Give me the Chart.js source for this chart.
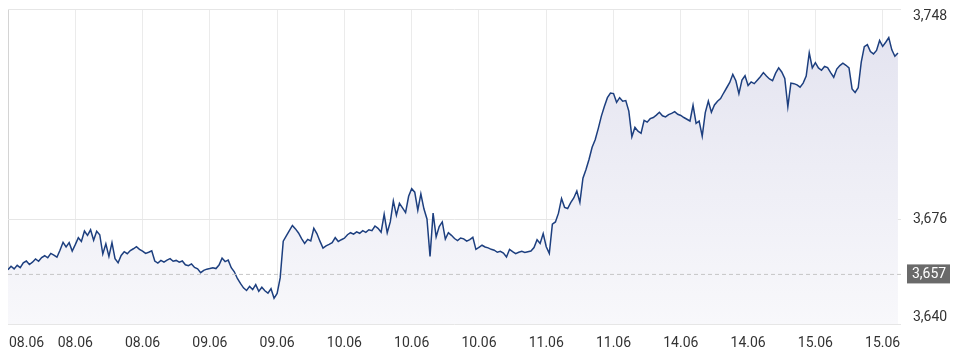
<!DOCTYPE html>
<html>
<head>
<meta charset="utf-8">
<script src="https://cdn.jsdelivr.net/npm/chart.js@4"></script>
<style>
  html, body { margin: 0; padding: 0; background: #fff; }
  #wrap { width: 956px; height: 361px; }
</style>
</head>
<body>
<div id="wrap"><canvas id="chart"></canvas></div>
<script>
// X axis tick labels and the point index they sit on
const xTickLabels = ["08.06", "08.06", "08.06", "09.06", "09.06", "10.06", "10.06",
  "10.06", "11.06", "11.06", "14.06", "14.06", "15.06", "15.06"];
const xTickIndex = [0, 22, 44, 66, 88, 110, 132, 154, 176, 198, 220, 242, 264, 286];

// Y axis ticks and the last price marker
const yTicks = [3640, 3676, 3748];
const lastPrice = 3657;

// Price values, one per step
const prices = [
  3658.6, 3659.8, 3658.9, 3660.1, 3659.3, 3661.0, 3661.6, 3660.4, 3661.2, 3662.3, 3661.5,
  3662.8, 3663.4, 3662.7, 3664.2, 3663.6, 3662.9, 3665.3, 3668.0, 3666.4, 3667.9, 3665.0,
  3667.2, 3669.6, 3668.3, 3671.9, 3670.4, 3672.3, 3668.7, 3671.8, 3670.6, 3664.0, 3667.5,
  3663.2, 3667.9, 3662.4, 3661.0, 3663.5, 3664.8, 3664.1, 3665.2, 3665.8, 3666.5, 3665.6,
  3665.0, 3664.2, 3664.6, 3665.1, 3661.6, 3660.9, 3661.8, 3661.2, 3661.9, 3662.4, 3661.5,
  3661.8, 3661.2, 3661.6, 3660.3, 3660.0, 3660.6, 3659.4, 3658.9, 3657.6, 3658.4, 3658.8,
  3659.0, 3659.3, 3659.0, 3660.2, 3662.6, 3661.4, 3661.9, 3659.3, 3657.9, 3655.6, 3653.9,
  3652.4, 3651.5, 3652.9, 3651.8, 3653.5, 3651.2, 3652.6, 3651.4, 3650.6, 3652.1, 3648.8,
  3650.5, 3655.8, 3668.4, 3670.2, 3672.0, 3673.8, 3672.6, 3671.2, 3669.3, 3667.6, 3669.0,
  3668.5, 3672.8, 3671.0, 3668.4, 3666.0, 3666.8, 3667.3, 3667.9, 3669.6, 3668.3, 3668.9,
  3669.4, 3670.6, 3671.3, 3670.8, 3671.6, 3671.1, 3672.0, 3671.4, 3672.3, 3672.0, 3673.6,
  3672.8, 3671.5, 3677.6, 3671.3, 3675.0, 3682.2, 3677.3, 3681.4, 3679.8, 3678.2, 3683.8,
  3686.4, 3685.2, 3679.0, 3684.6, 3679.5, 3676.0, 3663.2, 3678.0, 3669.9, 3673.4, 3675.0,
  3669.1, 3671.3, 3670.4, 3669.3, 3668.6, 3669.5, 3669.2, 3668.4, 3668.9, 3669.7, 3665.6,
  3666.3, 3667.0, 3666.4, 3666.1, 3665.6, 3665.3, 3664.6, 3664.9, 3664.3, 3663.0, 3665.6,
  3664.8, 3664.1, 3664.6, 3664.9, 3664.5, 3664.8, 3665.0, 3666.2, 3668.9, 3667.6, 3671.0,
  3666.5, 3664.2, 3674.2, 3675.0, 3678.0, 3683.0, 3680.0, 3679.6, 3681.6, 3683.2, 3685.6,
  3681.7, 3690.0, 3693.0, 3696.5, 3700.6, 3703.2, 3707.0, 3711.2, 3714.6, 3717.6, 3719.2,
  3719.0, 3716.0, 3717.6, 3716.4, 3716.6, 3713.0, 3704.2, 3707.4, 3706.1, 3705.4, 3709.8,
  3709.2, 3710.4, 3710.8, 3711.6, 3712.6, 3711.4, 3711.0, 3711.8, 3712.2, 3712.8, 3711.9,
  3711.5, 3710.8, 3710.2, 3709.6, 3715.0, 3708.8, 3709.6, 3704.4, 3712.5, 3716.4, 3712.6,
  3715.1, 3716.4, 3717.3, 3719.2, 3721.0, 3722.8, 3725.6, 3723.4, 3719.0, 3723.6, 3725.1,
  3721.8, 3723.0, 3722.4, 3723.6, 3724.8, 3726.2, 3725.0, 3724.0, 3723.4, 3726.0, 3727.8,
  3726.4, 3724.2, 3714.5, 3722.6, 3722.4, 3722.0, 3721.2, 3722.6, 3725.0, 3733.0, 3727.8,
  3729.6, 3727.8, 3727.0, 3728.3, 3727.9, 3726.2, 3724.6, 3727.4, 3728.6, 3729.4, 3728.7,
  3727.8, 3720.6, 3719.4, 3721.0, 3729.8, 3735.1, 3735.8, 3733.4, 3732.6, 3733.8, 3737.2,
  3735.2, 3736.6, 3738.2, 3734.0, 3731.8, 3732.9
];

const xMax = 292;
const font = "14px Roboto, 'Liberation Sans', sans-serif";
const textColor = "#333";

// Draw axis labels by hand so the edge ones stay inside like the original
const labelPlugin = {
  id: "labels",
  afterDraw(chart) {
    const ctx = chart.ctx;
    const area = chart.chartArea;
    const xs = chart.scales.x;
    const ys = chart.scales.y;
    ctx.save();
    ctx.font = font;
    ctx.fillStyle = textColor;
    ctx.textBaseline = "middle";

    // x labels
    xTickIndex.forEach((v, i) => {
      const px = xs.getPixelForValue(v);
      ctx.textAlign = i === 0 ? "left" : "center";
      ctx.fillText(xTickLabels[i], i === 0 ? px + 1 : px, area.bottom + 19);
    });

    // y labels
    ctx.textAlign = "left";
    yTicks.forEach((v) => {
      let py = ys.getPixelForValue(v);
      py = Math.min(Math.max(py, area.top + 7), area.bottom - 7);
      ctx.fillText(v.toLocaleString("en-US"), area.right + 12, py);
    });

    // last price badge
    const py = ys.getPixelForValue(lastPrice);
    ctx.fillStyle = "#6a6a6a";
    ctx.fillRect(area.right + 6, py - 10, 43, 19);
    ctx.fillStyle = "#fff";
    ctx.fillText(lastPrice.toLocaleString("en-US"), area.right + 11, py);
    ctx.restore();
  },
};

new Chart(document.getElementById("chart"), {
  type: "line",
  data: {
    datasets: [
      {
        data: prices.map((v, i) => ({ x: i, y: v })),
        borderColor: "#1d3f7f",
        borderWidth: 1.5,
        pointRadius: 0,
        tension: 0,
        fill: "start",
        backgroundColor: (context) => {
          const area = context.chart.chartArea;
          if (!area) return "#eeeef6";
          const g = context.chart.ctx.createLinearGradient(0, area.top, 0, area.bottom);
          g.addColorStop(0, "#e2e2ef");
          g.addColorStop(1, "#f8f8fb");
          return g;
        },
        order: 1,
      },
      {
        data: [{ x: 0, y: lastPrice }, { x: xMax, y: lastPrice }],
        borderColor: "#c6c6c6",
        borderWidth: 1,
        borderDash: [4, 3],
        pointRadius: 0,
        fill: false,
        order: 0,
      },
    ],
  },
  options: {
    responsive: true,
    maintainAspectRatio: false,
    animation: false,
    layout: { padding: { left: 8, top: 9, right: 0, bottom: 0 } },
    plugins: { legend: { display: false }, tooltip: { enabled: false } },
    scales: {
      x: {
        type: "linear",
        min: 0,
        max: xMax,
        afterBuildTicks: (scale) => {
          scale.ticks = xTickIndex.map((v) => ({ value: v }));
        },
        afterFit: (scale) => {
          scale.height = 37;
        },
        ticks: { display: false },
        grid: {
          color: (c) => (c.index === 0 ? "#d4d4d4" : "#ebebeb"),
          drawTicks: false,
        },
        border: { display: false },
      },
      y: {
        position: "right",
        min: 3640,
        max: 3748,
        afterBuildTicks: (scale) => {
          scale.ticks = yTicks.map((v) => ({ value: v }));
        },
        afterFit: (scale) => {
          scale.width = 55;
        },
        ticks: { display: false },
        grid: { color: "#e6e6e6", drawTicks: false },
        border: { display: false },
      },
    },
  },
  plugins: [labelPlugin],
});
</script>
</body>
</html>
